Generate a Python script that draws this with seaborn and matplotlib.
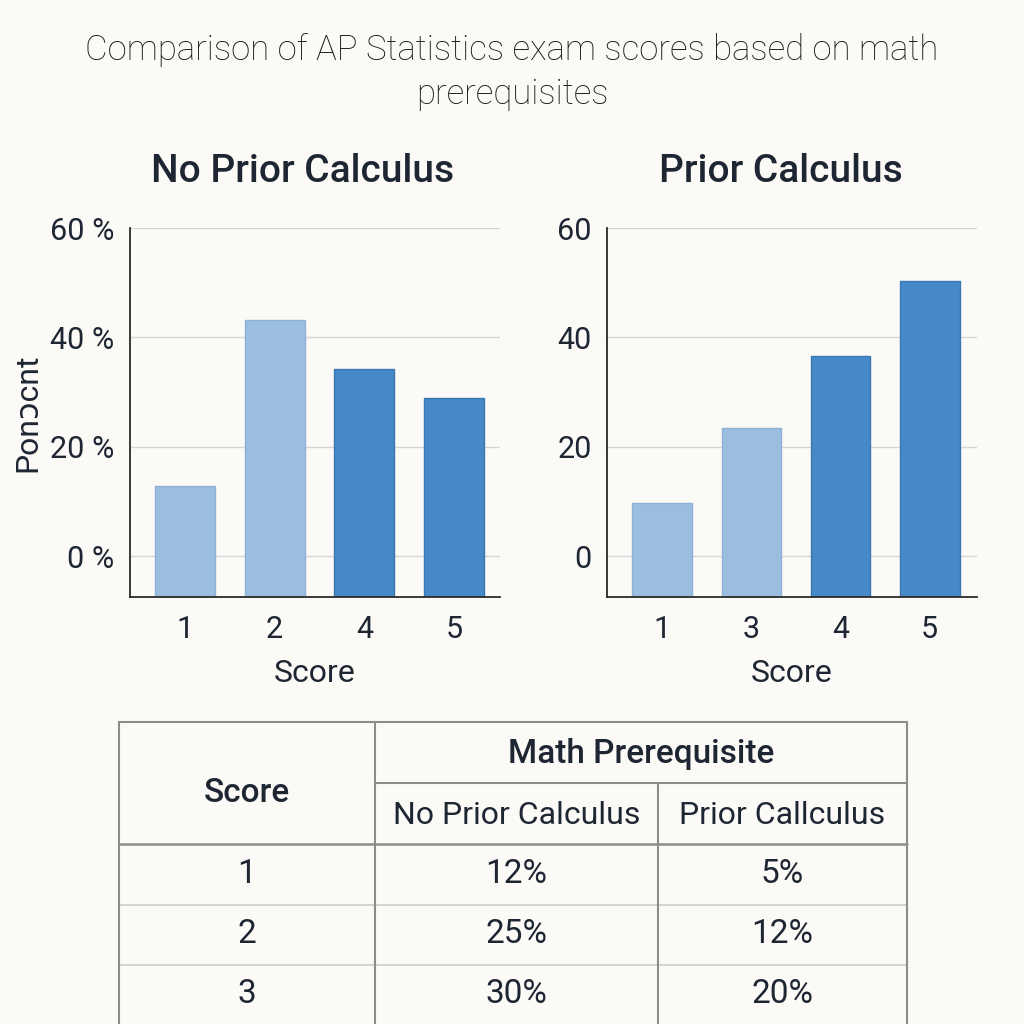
import matplotlib
matplotlib.use("Agg")
from matplotlib import pyplot as plt
import pandas as pd
import seaborn as sns

# chart data
title = "Comparison of AP Statistics exam scores based on math\nprerequisites"
left_title = "No Prior Calculus"
right_title = "Prior Calculus"
left_scores = ["1", "2", "4", "5"]
left_values = [12.8, 43.2, 34.2, 28.9]
left_shades = ["light", "light", "dark", "dark"]
right_scores = ["1", "3", "4", "5"]
right_values = [9.7, 23.4, 36.6, 50.3]
right_shades = ["light", "light", "dark", "dark"]
y_ticks = [0, 20, 40, 60]
left_tick_labels = ["0 %", "20 %", "40 %", "60 %"]
right_tick_labels = ["0", "20", "40", "60"]
y_label = "Ponɔcnt"
x_label = "Score"

# table data
table_first = "Score"
table_group = "Math Prerequisite"
table_columns = ["No Prior Calculus", "Prior Callculus"]
table_scores = ["1", "2", "3"]
table_no_calc = ["12%", "25%", "30%"]
table_calc = ["5%", "12%", "20%"]

BG = "#fbfaf6"
INK = "#1f2633"
palette = {"light": "#9bbee0", "dark": "#4689c6"}
edges = {"light": "#8db2d8", "dark": "#3a78b4"}
YMIN, YMAX = -7.5, 60

sns.set_theme(style="white")
plt.rcParams["font.family"] = ["Roboto", "DejaVu Sans"]
plt.rcParams["text.color"] = INK

fig = plt.figure(figsize=(10.24, 10.24), dpi=100, facecolor=BG)


def px(x, y, w, h):
    return [x / 1024, 1 - (y + h) / 1024, w / 1024, h / 1024]


def draw_panel(ax, scores, values, shades, tick_labels, xlim, show_ylabel):
    df = pd.DataFrame({"score": scores, "value": values, "shade": shades})
    sns.barplot(data=df, x="score", y="value", hue="shade", palette=palette,
                width=0.67, legend=False, ax=ax, saturation=1)
    # bars rise from the bottom of the axes, below the 0 gridline
    for patch, shade in zip(ax.patches, shades):
        h = patch.get_height()
        patch.set_y(YMIN)
        patch.set_height(h - YMIN)
        patch.set_edgecolor(edges[shade])
        patch.set_linewidth(1.0)
    ax.set_facecolor(BG)
    ax.set_ylim(YMIN, YMAX)
    ax.set_xlim(*xlim)
    ax.set_yticks(y_ticks)
    ax.set_yticklabels(tick_labels)
    ax.yaxis.grid(True, color="#d6d6d6", lw=1.0)
    ax.set_axisbelow(True)
    for side in ["top", "right"]:
        ax.spines[side].set_visible(False)
    for side in ["left", "bottom"]:
        ax.spines[side].set_color("#2a2a2a")
        ax.spines[side].set_linewidth(1.3)
    ax.tick_params(axis="both", labelsize=22, colors="#2a2a2a", labelcolor=INK,
                   length=5, width=1.1, direction="out")
    ax.tick_params(axis="y", pad=6)
    ax.tick_params(axis="x", pad=8)
    ax.set_xlabel(x_label, fontsize=23, color=INK, labelpad=11)
    if show_ylabel:
        ax.set_ylabel(y_label, fontsize=23, color=INK)
        ax.yaxis.set_label_coords(-0.238, 0.5)
    else:
        ax.set_ylabel("")


ax_l = fig.add_axes(px(130, 228, 370, 369))
draw_panel(ax_l, left_scores, left_values, left_shades, left_tick_labels,
           (-0.61, 3.51), True)
ax_r = fig.add_axes(px(607, 228, 370, 369))
draw_panel(ax_r, right_scores, right_values, right_shades, right_tick_labels,
           (-0.62, 3.53), False)

fig.text(303 / 1024, 1 - 172 / 1024, left_title, ha="center", va="center",
         fontsize=28, fontweight="medium", color=INK)
fig.text(781 / 1024, 1 - 172 / 1024, right_title, ha="center", va="center",
         fontsize=28, fontweight="medium", color=INK)
fig.text(0.5, 1 - 72 / 1024, title, ha="center", va="center", fontsize=25,
         fontweight="light", color="#1a1a1a", linespacing=1.4)

# table drawn in pixel space
tab = fig.add_axes([0, 0, 1, 1])
tab.set_xlim(0, 1024)
tab.set_ylim(1024, 0)
tab.axis("off")
tab.patch.set_alpha(0)

col_x = [119, 375, 658, 907]
row_y = [722, 783, 844, 905, 965, 1030]
dark_line = "#8c8c8c"
light_line = "#d2d2d2"
tab.plot([col_x[0], col_x[-1]], [row_y[0]] * 2, color=dark_line, lw=1.5)
tab.plot([col_x[1], col_x[-1]], [row_y[1]] * 2, color=dark_line, lw=1.5)
tab.plot([col_x[0], col_x[-1]], [row_y[2]] * 2, color=dark_line, lw=1.8)
for y in row_y[3:5]:
    tab.plot([col_x[0], col_x[-1]], [y, y], color=light_line, lw=1.3)
for x in [col_x[0], col_x[1], col_x[-1]]:
    tab.plot([x, x], [row_y[0], row_y[-1]], color=dark_line, lw=1.5)
tab.plot([col_x[2], col_x[2]], [row_y[1], row_y[-1]], color=dark_line, lw=1.5)

centers = [(col_x[i] + col_x[i + 1]) / 2 for i in range(3)]
tab.text(centers[0], 793, table_first, ha="center",
         va="center", fontsize=24, fontweight="medium", color=INK)
tab.text((col_x[1] + col_x[-1]) / 2, 754, table_group,
         ha="center", va="center", fontsize=24, fontweight="medium", color=INK)
for i, name in enumerate(table_columns):
    tab.text(centers[i + 1], 815, name, ha="center",
             va="center", fontsize=23, color=INK)
row_centers = [874, 934, 994]
for yc, s, a, b in zip(row_centers, table_scores, table_no_calc, table_calc):
    for c, val in enumerate([s, a, b]):
        tab.text(centers[c], yc, val, ha="center", va="center", fontsize=24,
                 color=INK)

fig.savefig("out.png", dpi=100, facecolor=BG)
